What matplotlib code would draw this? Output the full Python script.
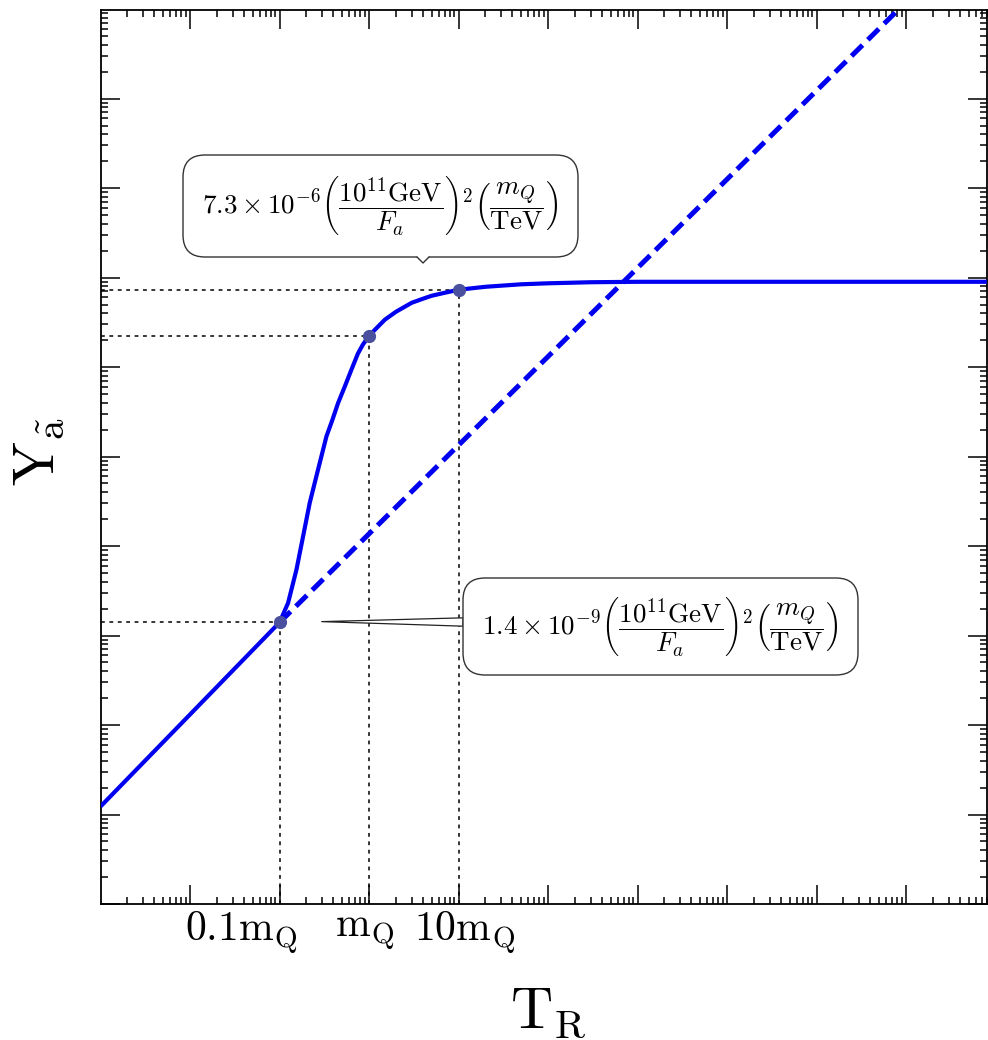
import matplotlib
matplotlib.use('Agg')
import matplotlib.pyplot as plt
from matplotlib.patches import FancyBboxPatch, Polygon
from matplotlib.lines import Line2D
from matplotlib.transforms import ScaledTranslation
from matplotlib.ticker import LogLocator, NullFormatter, FixedLocator, FixedFormatter

plt.rcParams['mathtext.fontset'] = 'cm'
plt.rcParams['font.family'] = 'DejaVu Serif'

# ---------------- data (T_R in units of m_Q) ----------------
T_solid = [1.0e-3, 0.1, 0.1245, 0.1545, 0.1832, 0.2173, 0.2692, 0.3342, 0.39, 0.4508,
           0.54, 0.6353, 0.75, 0.85, 1.0, 1.5, 2.0, 3.0, 4.0, 5.0, 7.0, 10.0, 20.0,
           50.0, 100.0, 300.0, 1000.0, 8.0e6]
Y_solid = [1.23e-11, 1.4e-9, 2.31e-9, 5.44e-9, 1.28e-8, 3.03e-8, 7.13e-8, 1.68e-7, 2.58e-7, 3.96e-7,
           6.18e-7, 9.33e-7, 1.41e-6, 1.77e-6, 2.24e-6, 3.38e-6, 4.15e-6, 5.23e-6, 5.80e-6, 6.26e-6,
           6.76e-6, 7.31e-6, 7.89e-6, 8.41e-6, 8.63e-6, 8.87e-6, 8.97e-6, 8.97e-6]
T_dash = [0.1, 1.0e6]
Y_dash = [1.4e-9, 1.2e-2]
T_mark = [0.1, 1.0, 10.0]
Y_mark = [1.4e-9, 2.24e-6, 7.3e-6]
xtick_vals = [1e-3, 1e-2, 1e-1, 1e0, 1e1, 1e2, 1e3, 1e4, 1e5, 1e6]
xtick_labels = ['', '', r'$0.1\mathrm{m_Q}$', r'$\mathrm{m_Q}$', r'$10\mathrm{m_Q}$',
                '', '', '', '', '']
ytick_vals = [1e-12, 1e-11, 1e-10, 1e-9, 1e-8, 1e-7, 1e-6, 1e-5, 1e-4, 1e-3, 1e-2]
label_high = (r'$7.3\times10^{-6}\left(\dfrac{10^{11}\mathrm{GeV}}{F_a}\right)^2'
              r'\left(\dfrac{m_Q}{\mathrm{TeV}}\right)$')
label_low = (r'$1.4\times10^{-9}\left(\dfrac{10^{11}\mathrm{GeV}}{F_a}\right)^2'
             r'\left(\dfrac{m_Q}{\mathrm{TeV}}\right)$')
xlabel = r'$\mathrm{T_R}$'
ylabel = r'$\mathrm{Y_{\tilde{a}}}$'
xlim = (10 ** -2.995, 10 ** 6.905)
ylim = (1e-12, 10 ** -2.01)
arrow_target = (0.296, 1.43e-9)

W, H = 988, 1040
fig = plt.figure(figsize=(W / 100, H / 100), dpi=100)
ax = fig.add_axes([101 / W, 1 - 904 / H, 886 / W, 894 / H])
ax.set_xscale('log')
ax.set_yscale('log')
ax.set_xlim(*xlim)
ax.set_ylim(*ylim)

blue = '#0000f0'
ax.plot(T_dash, Y_dash, color=blue, lw=3.6, linestyle=(0, (3.1, 1.5)), zorder=3)
ax.plot(T_solid, Y_solid, color=blue, lw=3.0, solid_capstyle='butt',
        solid_joinstyle='round', zorder=4)

dot_style = dict(color='black', lw=1.1, linestyle=(0, (2.5, 3.0)), zorder=2)
for t, y in zip(T_mark, Y_mark):
    ax.plot([t, t], [ylim[0], y], **dot_style)
    ax.plot([xlim[0], t], [y, y], **dot_style)
ax.plot(T_mark, Y_mark, 'o', color='#4a4f9e', ms=8.5, zorder=5)

# ticks
ax.xaxis.set_major_locator(FixedLocator(xtick_vals))
ax.xaxis.set_major_formatter(FixedFormatter(xtick_labels))
ax.xaxis.set_minor_locator(LogLocator(base=10, subs=range(2, 10), numticks=100))
ax.xaxis.set_minor_formatter(NullFormatter())
ax.yaxis.set_major_locator(FixedLocator(ytick_vals))
ax.yaxis.set_major_formatter(NullFormatter())
ax.yaxis.set_minor_locator(LogLocator(base=10, subs=range(2, 10), numticks=100))
ax.yaxis.set_minor_formatter(NullFormatter())
ax.tick_params(which='both', direction='in', top=True, right=True, width=1.1)
ax.tick_params(which='major', length=13.5, pad=4, labelsize=30)
ax.tick_params(which='minor', length=5)
for s in ax.spines.values():
    s.set_linewidth(1.3)

# shift the tick labels slightly, as in the original figure
label_shift_px = {2: -38, 3: -4, 4: 6}
for i, lab in enumerate(ax.get_xticklabels()):
    if i in label_shift_px:
        lab.set_transform(lab.get_transform() +
                          ScaledTranslation(label_shift_px[i] / 100, 0, fig.dpi_scale_trans))

# axis labels
fig.text(548 / W, 1 - 1027 / H, xlabel, fontsize=42, ha='center', va='baseline')
fig.text(38 / W, 1 - 452 / H, ylabel, fontsize=42, rotation=90, ha='center', va='center')


def px_box(x0, x1, ytop, ybot):
    return x0 / 100, (H - ybot) / 100, (x1 - x0) / 100, (ybot - ytop) / 100


tr = fig.dpi_scale_trans
for (x0, x1, yt, yb), txt in [((183, 578, 155, 257), label_high), ((463, 858, 578, 675), label_low)]:
    bx, by, bw, bh = px_box(x0, x1, yt, yb)
    p = FancyBboxPatch((bx, by), bw, bh, boxstyle='round,pad=0,rounding_size=0.22',
                       transform=tr, fc='white', ec='#333333', lw=1.0, zorder=10)
    fig.add_artist(p)
    fig.text((x0 + x1) / 2 / W, 1 - (yt + yb) / 2 / H, txt, fontsize=19.5,
             ha='center', va='center', zorder=11)

# notch of top box
tip_x, base_y, tip_y = 423, 257, 263
fig.add_artist(Polygon([((tip_x - 7) / 100, (H - base_y + 1.5) / 100),
                        (tip_x / 100, (H - tip_y) / 100),
                        ((tip_x + 7) / 100, (H - base_y + 1.5) / 100)],
                       closed=True, transform=tr, fc='white', ec='none', zorder=12))
fig.add_artist(Line2D([(tip_x - 6) / 100, tip_x / 100, (tip_x + 6) / 100],
                      [(H - base_y) / 100, (H - tip_y) / 100, (H - base_y) / 100],
                      transform=tr, color='#333333', lw=1.0, zorder=13))

# wedge leader for lower box
ax.annotate('', xy=arrow_target, xycoords='data',
            xytext=(463 / 100, (H - 622) / 100), textcoords=tr,
            arrowprops=dict(arrowstyle='wedge,tail_width=0.3', fc='white', ec='#222222',
                            lw=0.9, mutation_scale=20, shrinkA=0, shrinkB=0),
            zorder=9)

fig.savefig('out.png', dpi=100)
